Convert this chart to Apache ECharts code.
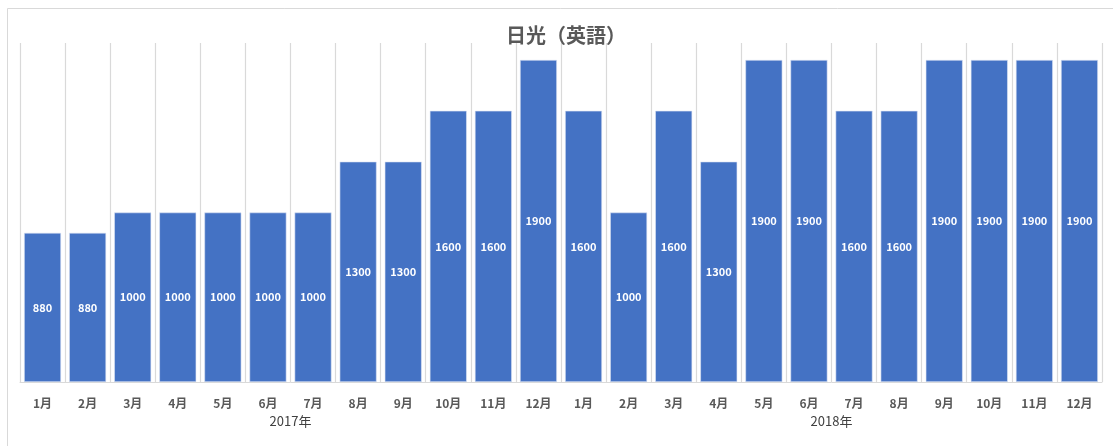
<!DOCTYPE html>
<html>
<head>
<meta charset="utf-8">
<script src="https://cdn.jsdelivr.net/npm/echarts@6/dist/echarts.min.js"></script>
<style>
  html, body { margin: 0; padding: 0; background: #fff; }
  #chart { width: 1113px; height: 446px; }
</style>
</head>
<body>
<div id="chart"></div>
<script>
// Monthly figures for 日光 (English guides), Jan 2017 – Dec 2018
const months = ['1月','2月','3月','4月','5月','6月','7月','8月','9月','10月','11月','12月',
                '1月','2月','3月','4月','5月','6月','7月','8月','9月','10月','11月','12月'];
const years = ['2017年', '2018年'];
const values = [880, 880, 1000, 1000, 1000, 1000, 1000, 1300, 1300, 1600, 1600, 1900,
                1600, 1000, 1600, 1300, 1900, 1900, 1600, 1600, 1900, 1900, 1900, 1900];
const titleText = '日光（英語）';

const jpFont = '"Noto Sans CJK JP", "Noto Sans", sans-serif';

const chart = echarts.init(document.getElementById('chart'), null, { renderer: 'canvas' });
chart.setOption({
  backgroundColor: '#ffffff',
  animation: false,
  title: {
    text: titleText,
    left: 561,
    textAlign: 'center',
    top: 20,
    textStyle: { fontFamily: jpFont, fontSize: 20, fontWeight: 'bold', color: '#595959' }
  },
  graphic: [{
    type: 'rect',
    left: 5, top: 6,
    shape: { width: 1120, height: 450 },
    style: { fill: 'none', stroke: '#d9d9d9', lineWidth: 1 },
    silent: true,
    z: -1
  }],
  grid: { left: 20, right: 11, top: 43, bottom: 64, containLabel: false },
  xAxis: [{
    type: 'category',
    data: months,
    axisLine: { show: true, lineStyle: { color: '#d9d9d9', width: 1 } },
    axisTick: { show: false },
    splitLine: { show: true, lineStyle: { color: '#d9d9d9', width: 1.2 } },
    axisLabel: {
      interval: 0, margin: 15,
      fontFamily: jpFont, fontSize: 12, fontWeight: 'bold', color: '#595959'
    }
  }, {
    type: 'category',
    data: years,
    position: 'bottom',
    offset: 25,
    axisLine: { show: false },
    axisTick: { show: false },
    splitLine: { show: false },
    axisLabel: {
      interval: 0, margin: 8,
      fontFamily: jpFont, fontSize: 13, color: '#404040'
    }
  }],
  yAxis: {
    type: 'value',
    min: 0, max: 2000,
    show: false,
    splitLine: { show: false }
  },
  series: [{
    type: 'bar',
    data: values,
    xAxisIndex: 0,
    barCategoryGap: '18%',
    itemStyle: { color: '#4472C4', borderColor: '#dde4f3', borderWidth: 0.6 },
    label: {
      show: true,
      position: 'inside',
      fontFamily: jpFont, fontSize: 11, fontWeight: 'bold', color: '#ffffff'
    }
  }]
});
</script>
</body>
</html>
